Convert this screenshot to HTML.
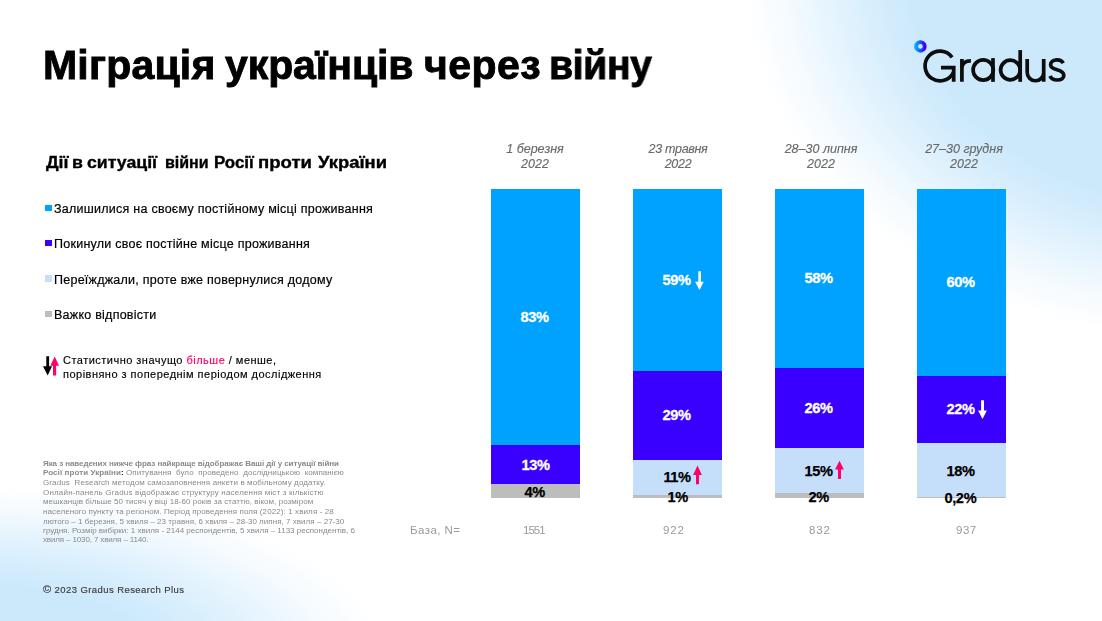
<!DOCTYPE html>
<html><head><meta charset="utf-8">
<style>
html,body{margin:0;padding:0;}
body{width:1102px;height:621px;position:relative;overflow:hidden;background:#fff;font-family:"Liberation Sans",sans-serif;}
.a{position:absolute;white-space:nowrap;line-height:1;will-change:transform;}
.bg{position:absolute;left:0;top:0;width:1102px;height:621px;}
.bar{position:absolute;width:89px;}
.seg{position:absolute;left:0;width:89px;}
.c1{background:#00a2ff;}
.c2{background:#3a00ff;}
.c3{background:#c5dffa;}
.c4{background:#bdbdbd;}
.val{position:absolute;font-weight:bold;font-size:14.6px;line-height:1;white-space:nowrap;letter-spacing:-0.35px;}
.w{-webkit-text-stroke:0.3px #fff;}
.k{-webkit-text-stroke:0.25px #000;}
.w{color:#fff;}
.k{color:#000;}
.date{font-style:italic;color:#6a6a6a;-webkit-text-stroke:0.15px #6a6a6a;font-size:12.5px;text-align:center;width:140px;line-height:15px;}
.leg{font-size:12.5px;color:#000;letter-spacing:0.25px;-webkit-text-stroke:0.2px #000;}
.sq{position:absolute;width:7px;height:6px;}
.fn{font-size:8px;color:#8a8a8a;white-space:pre;}
.base{font-size:11.5px;color:#9a9a9a;}
</style></head>
<body>
<div class="bg" style="background:
 radial-gradient(ellipse 290px 125px at -20px 660px, rgba(204,233,252,1) 0%, rgba(204,233,252,1) 60%, rgba(204,233,252,0.78) 80%, rgba(204,233,252,0.5) 100%, rgba(204,233,252,0.2) 120%, rgba(204,233,252,0) 140%);"></div>
<div class="bg" style="background:radial-gradient(ellipse 365px 300px at 1192px -32px, rgba(204,233,252,1) 0%, rgba(204,233,252,1) 78%, rgba(204,233,252,0.8) 88%, rgba(204,233,252,0.5) 100%, rgba(204,233,252,0.2) 112%, rgba(204,233,252,0) 123%);"></div>

<div class="a" style="left:43px;top:45px;font-size:41px;font-weight:bold;color:#000;-webkit-text-stroke:0.9px #000;letter-spacing:0.19px;">Міграція</div><div class="a" style="left:225px;top:45px;font-size:41px;font-weight:bold;color:#000;-webkit-text-stroke:0.9px #000;letter-spacing:-0.09px;">українців</div><div class="a" style="left:423.5px;top:45px;font-size:41px;font-weight:bold;color:#000;-webkit-text-stroke:0.9px #000;letter-spacing:0.44px;">через</div><div class="a" style="left:548.5px;top:45px;font-size:41px;font-weight:bold;color:#000;-webkit-text-stroke:0.9px #000;letter-spacing:-0.38px;transform:scaleX(0.955);transform-origin:0 0;">війну</div>

<!-- logo -->
<svg style="position:absolute;left:900px;top:30px;" width="180" height="70" viewBox="900 30 180 70">
 <defs><linearGradient id="lg" x1="0" y1="0" x2="1" y2="0"><stop offset="0" stop-color="#00a8ff"/><stop offset="1" stop-color="#3a00ff"/></linearGradient></defs>
 <circle cx="920.4" cy="46.4" r="4.3" fill="none" stroke="url(#lg)" stroke-width="3.9"/>
 <g fill="none" stroke="#0d0d0d" stroke-width="3.7">
  <path d="M952.1 57.3 A14.9 14.9 0 1 0 953.6 72"/>
  <path d="M941 67.6 H955.6 M953.7 66 V81.85"/>
  <path d="M961.9 81.85 V58.9 M961.9 68 Q962.3 60.9 970.9 60.9"/>
  <circle cx="983.2" cy="70" r="10.1"/>
  <path d="M993 58.1 V81.85"/>
  <circle cx="1010.4" cy="70" r="9.8"/>
  <path d="M1020.2 50.1 V81.85"/>
  <path d="M1027.2 58.9 V72.5 A8.25 8.25 0 0 0 1043.7 72.5 M1043.7 58.9 V81.85"/>
  <path d="M1063.3 63.2 C1062 60.9 1059.6 59.9 1057 59.9 C1053.4 59.9 1050.6 61.9 1050.6 64.8 C1050.6 67.9 1053.6 68.9 1057 69.8 C1061 70.8 1063.8 72.3 1063.8 75.5 C1063.8 78.4 1061 80 1057.1 80 C1053.7 80 1051.1 78.6 1050 76"/>
 </g>
</svg>

<div class="a h2w" style="left:46.2px;top:155px;font-size:16px;font-weight:bold;color:#000;transform-origin:0 0;-webkit-text-stroke:0.35px #000;transform:scaleX(1.106);">Дії</div><div class="a h2w" style="left:72px;top:155px;font-size:16px;font-weight:bold;color:#000;transform-origin:0 0;-webkit-text-stroke:0.35px #000;transform:scaleX(1.106);">в</div><div class="a h2w" style="left:87.4px;top:155px;font-size:16px;font-weight:bold;color:#000;transform-origin:0 0;-webkit-text-stroke:0.35px #000;transform:scaleX(1.106);">ситуації</div><div class="a h2w" style="left:164.8px;top:155px;font-size:16px;font-weight:bold;color:#000;transform-origin:0 0;-webkit-text-stroke:0.35px #000;transform:scaleX(1.0);">війни</div><div class="a h2w" style="left:213.9px;top:155px;font-size:16px;font-weight:bold;color:#000;transform-origin:0 0;-webkit-text-stroke:0.35px #000;transform:scaleX(1.057);">Росії</div><div class="a h2w" style="left:258px;top:155px;font-size:16px;font-weight:bold;color:#000;transform-origin:0 0;-webkit-text-stroke:0.35px #000;transform:scaleX(1.16);">проти</div><div class="a h2w" style="left:317.8px;top:155px;font-size:16px;font-weight:bold;color:#000;transform-origin:0 0;-webkit-text-stroke:0.35px #000;transform:scaleX(1.15);">України</div>

<div class="sq c1" style="left:45px;top:205px;"></div>
<div class="a leg" style="left:53.8px;top:203px;">Залишилися на своєму постійному місці проживання</div>
<div class="sq c2" style="left:45px;top:240px;"></div>
<div class="a leg" style="left:53.8px;top:238px;">Покинули своє постійне місце проживання</div>
<div class="sq c3" style="left:45px;top:275px;height:7px;"></div>
<div class="a leg" style="left:53.8px;top:274px;">Переїжджали, проте вже повернулися додому</div>
<div class="sq c4" style="left:45px;top:311px;"></div>
<div class="a leg" style="left:53.8px;top:309px;">Важко відповісти</div>

<!-- legend arrows -->
<svg style="position:absolute;left:40px;top:350px;" width="24" height="30" viewBox="0 0 24 30">
 <path d="M6.3 6.3 H9.1 V16.3 H12 L7.7 25.4 L3 16.3 H6.3 Z" fill="#000"/>
 <path d="M13 25.4 V15.7 H10.3 L14.7 6.6 L19 15.7 H16.1 V25.4 Z" fill="#ff0066"/>
</svg>
<div class="a" style="left:62.8px;top:354px;font-size:11px;color:#000;line-height:13.7px;letter-spacing:0.48px;-webkit-text-stroke:0.15px #000;">Статистично значущо <span style="color:#ff0066;-webkit-text-stroke:0.15px #ff0066;">більше</span> / менше,<br>порівняно з попереднім періодом дослідження</div>

<!-- footnote -->
<div class="a fn" id="fn1" style="left:43px;top:460.03px;letter-spacing:-0.07px;"><b>Яка з наведених нижче фраз найкраще відображає Ваші дії у ситуації війни</b></div>
<div class="a fn" id="fn2" style="left:43px;top:468.53px;letter-spacing:0.075px;"><b>Росії проти України<span style="color:#111">:</span></b> Опитування  було  проведено  дослідницькою  компанією</div>
<div class="a fn" id="fn3" style="left:43px;top:478.63px;letter-spacing:0.11px;">Gradus  Research методом самозаповнення анкети в мобільному додатку.</div>
<div class="a fn" id="fn4" style="left:43px;top:488.53px;letter-spacing:0.18px;">Онлайн-панель Gradus відображає структуру населення міст з кількістю</div>
<div class="a fn" id="fn5" style="left:43px;top:498.23px;letter-spacing:0.056px;">мешканців більше 50 тисяч у віці 18-60 років за статтю, віком, розміром</div>
<div class="a fn" id="fn6" style="left:43px;top:507.93px;letter-spacing:0.1px;">населеного пункту та регіоном. Період проведення поля (2022): 1 хвиля - 28</div>
<div class="a fn" id="fn7" style="left:43px;top:517.83px;letter-spacing:0.034px;">лютого – 1 березня, 5 хвиля – 23 травня, 6 хвиля – 28-30 липня, 7 хвиля – 27-30</div>
<div class="a fn" id="fn8" style="left:43px;top:526.63px;letter-spacing:0.0px;">грудня. Розмір вибірки: 1 хвиля - 2144 респондентів, 5 хвиля – 1133 респондентів, 6</div>
<div class="a fn" id="fn9" style="left:43px;top:536.13px;letter-spacing:-0.14px;">хвиля – 1030, 7 хвиля – 1140.</div>

<div class="a" style="left:43px;top:585px;font-size:9.5px;color:#3a3a3a;letter-spacing:0.42px;-webkit-text-stroke:0.15px #3a3a3a;"><span style="font-size:11px;line-height:9px;">©</span> 2023 Gradus Research Plus</div>

<!-- dates -->
<div class="a date" style="left:465px;top:141.5px;">1 березня<br>2022</div>
<div class="a date" style="left:608px;top:141.5px;letter-spacing:-0.3px;">23 травня<br>2022</div>
<div class="a date" style="left:751px;top:141.5px;">28–30 липня<br>2022</div>
<div class="a date" style="left:893.5px;top:141.5px;">27–30 грудня<br>2022</div>

<!-- bars -->
<div class="seg c1" style="left:491px;top:189px;height:256px;"></div>
<div class="seg c2" style="left:491px;top:445px;height:39px;"></div>
<div class="seg c4" style="left:491px;top:484px;height:14px;"></div>

<div class="seg c1" style="left:633px;top:189px;height:182px;"></div>
<div class="seg c2" style="left:633px;top:371px;height:89px;"></div>
<div class="seg c3" style="left:633px;top:460px;height:35px;"></div>
<div class="seg c4" style="left:633px;top:495px;height:3px;"></div>

<div class="seg c1" style="left:775px;top:189px;height:179px;"></div>
<div class="seg c2" style="left:775px;top:368px;height:80px;"></div>
<div class="seg c3" style="left:775px;top:448px;height:45px;"></div>
<div class="seg c4" style="left:775px;top:493px;height:5px;"></div>

<div class="seg c1" style="left:917px;top:189px;height:187px;"></div>
<div class="seg c2" style="left:917px;top:376px;height:67px;"></div>
<div class="seg c3" style="left:917px;top:443px;height:54px;"></div>
<div class="seg c4" style="left:917px;top:497px;height:1px;"></div>

<!-- values -->
<div class="val w" style="left:520.4px;top:310.3px;">83%</div>
<div class="val w" style="left:521.4px;top:458.3px;">13%</div>
<div class="val k" style="left:524.4px;top:485.3px;">4%</div>

<div class="val w" style="left:662.4px;top:273.3px;">59%</div>
<div class="val w" style="left:662.4px;top:408.3px;">29%</div>
<div class="val k" style="left:663.4px;top:470.3px;">11%</div>
<div class="val k" style="left:667.4px;top:490.3px;">1%</div>

<div class="val w" style="left:804.4px;top:271.3px;">58%</div>
<div class="val w" style="left:804.4px;top:401.3px;">26%</div>
<div class="val k" style="left:804.4px;top:464.3px;">15%</div>
<div class="val k" style="left:808.4px;top:490.3px;">2%</div>

<div class="val w" style="left:946.4px;top:275.3px;">60%</div>
<div class="val w" style="left:946.4px;top:402.3px;">22%</div>
<div class="val k" style="left:946.4px;top:464.3px;">18%</div>
<div class="val k" style="left:944.4px;top:491.3px;">0,2%</div>

<!-- arrows in bars -->
<svg style="position:absolute;left:690px;top:265px;" width="20" height="30" viewBox="0 0 20 30"><path d="M8.3 6.2 H10.9 V16.8 H13.7 L9.5 25 L5.1 16.8 H8.3 Z" fill="#fff"/></svg>
<svg style="position:absolute;left:970px;top:394px;" width="20" height="30" viewBox="0 0 20 30"><path d="M11.1 6.3 H14 V16.6 H16.9 L12.5 25 L8.1 16.6 H11.1 Z" fill="#fff"/></svg>
<svg style="position:absolute;left:690px;top:460px;" width="20" height="30" viewBox="0 0 20 30"><path d="M6 24.2 V14.9 H3.1 L7.5 5.6 L11.9 14.9 H9 V24.2 Z" fill="#ff0066"/></svg>
<svg style="position:absolute;left:830px;top:455px;" width="20" height="30" viewBox="0 0 20 30"><path d="M8 24.1 V14.6 H5 L9.5 5.8 L13.9 14.6 H11 V24.1 Z" fill="#ff0066"/></svg>

<!-- base -->
<div class="a base" style="left:410px;top:525.3px;letter-spacing:0.45px;">База, N=</div>
<div class="a base" style="left:522.5px;top:525.3px;letter-spacing:-1px;">1551</div>
<div class="a base" style="left:662.5px;top:525.3px;letter-spacing:0.8px;">922</div>
<div class="a base" style="left:809px;top:525.3px;letter-spacing:0.8px;">832</div>
<div class="a base" style="left:955.5px;top:525.3px;letter-spacing:0.5px;">937</div>

</body></html>
